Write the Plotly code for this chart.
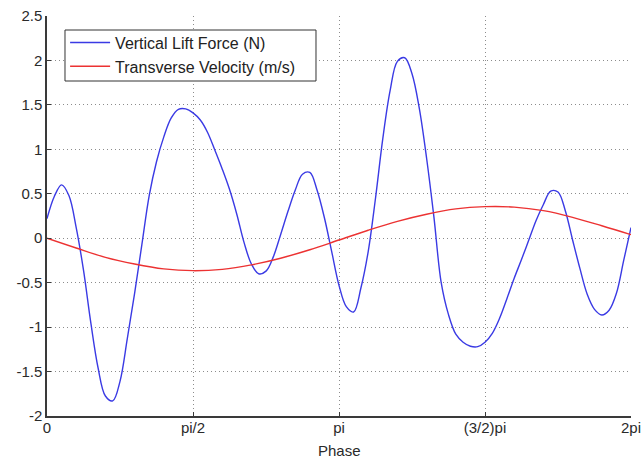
import numpy as np
import plotly.graph_objects as go

# Phase sample positions (in units of pi), every 0.025*pi
lift_phase = [round(0.025 * i, 3) for i in range(81)]
# Vertical lift force (N) at those phases
lift_force = [0.22, 0.47, 0.60, 0.48,
              0.12, -0.36, -0.95, -1.46,
              -1.775, -1.83, -1.61, -1.13,
              -0.62, -0.07, 0.48, 0.86,
              1.14, 1.35, 1.45, 1.455,
              1.41, 1.33, 1.19, 0.99,
              0.78, 0.55, 0.27, -0.05,
              -0.29, -0.40, -0.37, -0.21,
              0.04, 0.30, 0.54, 0.72,
              0.74, 0.54, 0.23, -0.15,
              -0.53, -0.77, -0.83, -0.56,
              -0.15, 0.45, 1.12, 1.66,
              1.99, 2.03, 1.85, 1.46,
              0.90, 0.24, -0.50, -0.86,
              -1.08, -1.17, -1.215, -1.22,
              -1.17, -1.07, -0.90, -0.68,
              -0.45, -0.24, -0.02, 0.20,
              0.38, 0.53, 0.52, 0.31,
              -0.02, -0.34, -0.63, -0.80,
              -0.863, -0.81, -0.62, -0.25,
              0.12]

# Transverse velocity (m/s) sampled every 0.1*pi
vel_phase = [0.0, 0.1, 0.2, 0.3, 0.4, 0.5, 0.6, 0.7, 0.8, 0.9, 1.0,
             1.1, 1.2, 1.3, 1.4, 1.5, 1.6, 1.7, 1.8, 1.9, 2.0]
velocity = [0.0, -0.11, -0.215, -0.29, -0.345, -0.365, -0.35, -0.30, -0.225,
            -0.13, -0.02, 0.09, 0.19, 0.27, 0.33, 0.355, 0.35, 0.31, 0.235,
            0.14, 0.04]

tick_pos = [0.0, 0.5, 1.0, 1.5, 2.0]
tick_text = ["0", "pi/2", "pi", "(3/2)pi", "2pi"]
y_ticks = [-2, -1.5, -1, -0.5, 0, 0.5, 1, 1.5, 2, 2.5]
y_text = ["-2", "-1.5", "-1", "-0.5", "0", "0.5", "1", "1.5", "2", "2.5"]

FONT = "Liberation Sans, Arial, sans-serif"
GRID = "#8c8c8c"
AXIS = "#3a3a3a"

fig = go.Figure()
fig.add_trace(go.Scatter(
    x=np.pi * np.array(lift_phase), y=lift_force, mode="lines",
    name="Vertical Lift Force (N)", legendgroup="a",
    line=dict(color="#3a3ae4", width=1.4, shape="spline", smoothing=1.0),
))
fig.add_trace(go.Scatter(
    x=np.pi * np.array(vel_phase), y=velocity, mode="lines",
    name="Transverse Velocity (m/s)", legendgroup="b",
    line=dict(color="#ec3232", width=1.4, shape="spline", smoothing=1.0),
))

# Legend frame drawn as a white box over the curves
fig.add_shape(
    type="rect", xref="paper", yref="paper",
    x0=0.0308, x1=0.4606, y0=0.8375, y1=0.965,
    fillcolor="white", line=dict(color="#333333", width=1), layer="above",
)

# x-axis title placed below the tick labels
fig.add_annotation(
    text="Phase", xref="paper", yref="paper", x=0.5, y=-0.085,
    xanchor="center", yanchor="middle", showarrow=False,
    font=dict(family=FONT, size=15, color="#2a2a2a"),
)

fig.update_layout(
    width=643, height=459,
    margin=dict(l=47, r=12, t=16, b=43),
    paper_bgcolor="white", plot_bgcolor="white",
    font=dict(family=FONT, size=15, color="#2a2a2a"),
    showlegend=True,
    legend=dict(
        x=0.031, y=0.976, xanchor="left", yanchor="top",
        bgcolor="rgba(0,0,0,0)", borderwidth=0,
        font=dict(family=FONT, size=16, color="#222222"),
        tracegroupgap=0, itemwidth=40,
    ),
    xaxis=dict(
        range=[0, 2 * np.pi], automargin=False,
        tickmode="array", tickvals=[np.pi * t for t in tick_pos], ticktext=tick_text,
        ticks="inside", ticklen=4, tickcolor=AXIS, tickwidth=1,
        showline=True, linecolor=AXIS, linewidth=1.5, mirror=False,
        showgrid=True, gridcolor=GRID, griddash="1px,3px", gridwidth=1,
        zeroline=False, ticklabelstandoff=-3,
        tickfont=dict(family=FONT, size=15),
    ),
    yaxis=dict(
        range=[-2, 2.5], automargin=False,
        tickmode="array", tickvals=y_ticks, ticktext=y_text,
        ticks="inside", ticklen=4, tickcolor=AXIS, tickwidth=1,
        showline=True, linecolor=AXIS, linewidth=1.5, mirror=False,
        showgrid=True, gridcolor=GRID, griddash="1px,3px", gridwidth=1,
        zeroline=False,
        tickfont=dict(family=FONT, size=15),
    ),
)

fig.write_html("out.html")
